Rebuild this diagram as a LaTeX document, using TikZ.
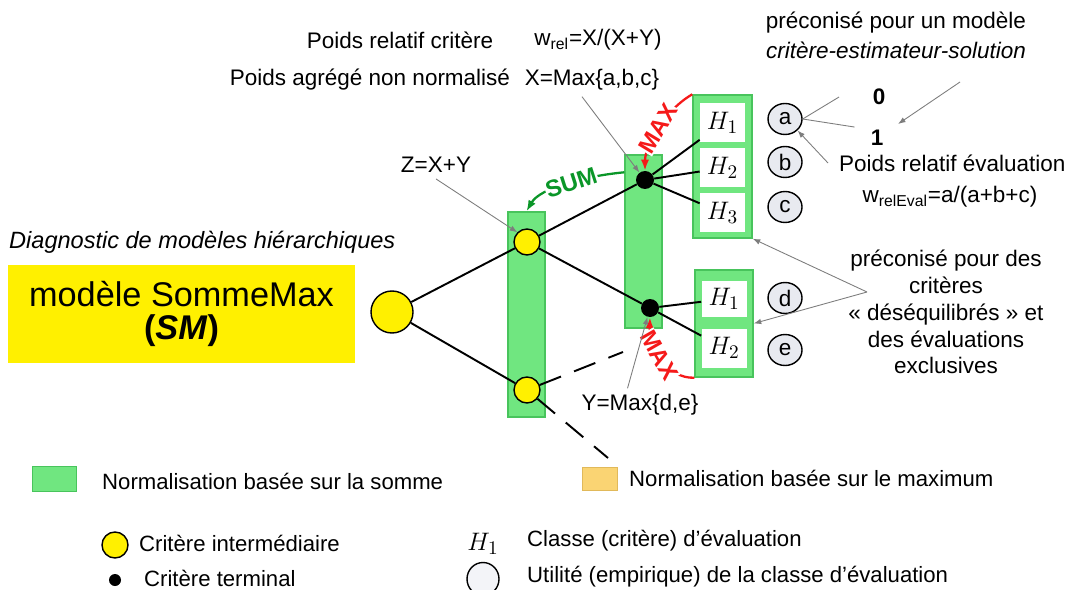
\documentclass[tikz,border=0pt]{standalone}
\usepackage{fontspec}
\setmainfont{Liberation Sans}
\usepackage{xcolor}
\usepackage{tikz}
\usetikzlibrary{arrows.meta,positioning,shapes.geometric,calc}
\definecolor{normsum}{RGB}{112,230,128}
\definecolor{normsumline}{RGB}{72,196,92}
\definecolor{normmax}{RGB}{250,212,115}
\definecolor{normmaxline}{RGB}{225,185,90}
\definecolor{crityellow}{RGB}{255,240,0}
\definecolor{utilfill}{RGB}{232,234,240}
\definecolor{maxred}{RGB}{245,25,25}
\definecolor{sumgreen}{RGB}{10,150,40}
\definecolor{notegray}{RGB}{125,125,125}

\begin{document}
\begin{tikzpicture}[x=0.2mm, y=-0.2mm,
  font=\fontsize{12.8}{15.5}\selectfont,
  column/.style={draw=normsumline, fill=normsum, line width=0.8pt,
                 minimum width=7.4mm, inner sep=0pt},
  hbox/.style={fill=white, minimum width=9mm, minimum height=7.8mm,
               inner sep=0pt, font=\fontsize{15}{18}\selectfont},
  inter/.style={circle, draw, thick, fill=crityellow, minimum size=5.2mm, inner sep=0pt},
  term/.style={circle, fill=black, minimum size=3.6mm, inner sep=0pt},
  util/.style={ellipse, draw, thick, fill=utilfill, minimum width=6.8mm,
               minimum height=6.2mm, inner sep=0pt},
  link/.style={line width=1.1pt},
  cutlink/.style={line width=1.1pt, dash pattern=on 13pt off 8pt},
  note/.style={draw=notegray, line width=0.5pt, -{Latex[length=1.5mm,width=1.1mm]}},
  maxflow/.style={maxred, line width=1.3pt, -{Latex[length=2.2mm]}},
  sumflow/.style={sumgreen, line width=1.3pt, -{Latex[length=2.2mm]}},
  flowlabel/.style={sloped, fill=white, inner sep=0.4pt, font=\fontsize{13.5}{14}\selectfont\bfseries},
  legend/.style={anchor=west, font=\fontsize{12.6}{15}\selectfont}
]
\useasboundingbox (0,0) rectangle (1070,590);

\node[column, minimum height=41mm] (colA) at (526.5,314.5) {};
\node[column, minimum height=34.6mm] (colB) at (643.5,241.5) {};
\node[column, minimum width=11.8mm, minimum height=28.6mm] (boxA) at (722.5,166.5) {};
\node[column, minimum width=11.6mm, minimum height=21.4mm] (boxB) at (724,323.5) {};

\node[hbox] (ha1) at (722.5,123) {$H_1$};
\node[hbox] (ha2) at (722.5,168) {$H_2$};
\node[hbox] (ha3) at (722.5,213) {$H_3$};
\node[hbox, minimum height=7.2mm] (hb1) at (724,299) {$H_1$};
\node[hbox] (hb2) at (724,348) {$H_2$};

\node[util] (ua) at (785,119) {a};
\node[util] (ub) at (785,162) {b};
\node[util] (uc) at (785,207) {c};
\node[util] (ud) at (785,298) {d};
\node[util] (ue) at (785,350) {e};

\node[inter, minimum size=8.4mm] (root) at (392,312) {};
\node[inter] (y1) at (527,242) {};
\node[inter] (y2) at (527,390) {};
\node[term] (t1) at (645,180) {};
\node[term] (t2) at (650,308) {};
\coordinate (cut1) at (623,352);
\coordinate (cut2) at (608,458);

\draw[link] (root) -- (y1);
\draw[link] (root) -- (y2);
\draw[link] (y1) -- (t1);
\draw[link] (y1) -- (t2);
\foreach \h in {ha1,ha2,ha3} \draw[link] (t1) -- (\h);
\foreach \h in {hb1,hb2} \draw[link] (t2) -- (\h);
\draw[cutlink] (y2) -- (cut1);
\draw[cutlink] (y2) -- (cut2);

\draw[sumflow] ([yshift=-3.6mm]colB.north west) .. controls (585,176) and (540,188) .. (colA.north)
  node[flowlabel, pos=0.45] {SUM};
\draw[maxflow] (boxA.north west) .. controls (665,110) and (645,145) .. (t1.north)
  node[flowlabel, pos=0.5] {MAX};
\draw[maxflow] (boxB.south west) .. controls (668,379) and (649,348) .. (t2.south)
  node[flowlabel, pos=0.56] {MAX};

\node (relcrit) at (400,40) {Poids relatif critère};
\node (wrel) at (598,40) {w\textsubscript{rel}=X/(X+Y)};
\node (agreg) at (370,80) {Poids agrégé non normalisé};
\node (xmax) at (592,80) {X=Max\{a,b,c\}};
\node[align=center, font=\fontsize{12.8}{17}\selectfont] (pre1) at (896,35)
  {préconisé pour un modèle\\\textit{critère-estimateur-solution}};
\node (zero) at (879,97) {\textbf{0}};
\node (one) at (877,138) {\textbf{1}};
\node[anchor=west] (relev) at (833,163) {Poids relatif évaluation};
\node (wrelev) at (950,197) {w\textsubscript{relEval}=a/(a+b+c)};
\node (zxy) at (436,165) {Z=X+Y};
\node[anchor=west, font=\fontsize{13.4}{16}\selectfont\itshape] (diag) at (3,242)
  {Diagnostic de modèles hiérarchiques};
\node[fill=crityellow, minimum width=69.4mm, minimum height=19.4mm, align=center,
      font=\fontsize{19.5}{18.5}\selectfont] (sm) at (181.5,314)
  {modèle SommeMax\\\textbf{(\textit{SM})}};
\node (ymax) at (640,405) {Y=Max\{d,e\}};
\node[align=center, font=\fontsize{12.8}{15.3}\selectfont] (pre2) at (946,312)
  {préconisé pour des\\critères\\« déséquilibrés » et\\des évaluations\\exclusives};

\coordinate (soltail) at (960,82);
\coordinate (soltip) at (898,124);
\coordinate (apex) at (867,292);
\draw[note] (soltail) -- (soltip);
\draw[notegray, line width=0.5pt] (ua.east) -- ([xshift=-5.5mm]zero.west);
\draw[notegray, line width=0.5pt] (ua.east) -- ([shift={(-2mm,-0.6mm)}]one.north west);
\draw[note] ([xshift=-1mm]relev.west) -- (ua.south east);
\draw[note] (zxy.south) -- (y1.north west);
\draw[note] ([xshift=-2mm]xmax.south) -- (t1);
\draw[note] ([xshift=-2.5mm]ymax.north) -- (t2);
\draw[note] (apex) -- (boxA.south east);
\draw[note] (apex) -- (boxB.east);

% legende
\node[draw=normsumline, fill=normsum, minimum width=8.8mm, minimum height=5mm, inner sep=0pt]
  (lgsum) at (54,479) {};
\node[legend] (lgsumtxt) at (96,481) {Normalisation basée sur la somme};
\node[draw=normmaxline, fill=normmax, minimum width=7mm, minimum height=4.6mm, inner sep=0pt]
  (lgmax) at (599.5,478.5) {};
\node[legend] (lgmaxtxt) at (623,478) {Normalisation basée sur le maximum};
\node[inter] (lginter) at (115,545) {};
\node[legend] (lgintertxt) at (133,543) {Critère intermédiaire};
\node[term, minimum size=2.4mm] (lgterm) at (115,580) {};
\node[legend] (lgtermtxt) at (138,578) {Critère terminal};
\node[font=\fontsize{15}{18}\selectfont] (lgh) at (483,544) {$H_1$};
\node[legend] (lghtxt) at (521,541) {Classe (critère) d'évaluation};
\node[util, fill=utilfill!50, minimum width=6.4mm, minimum height=6.6mm] (lgutil) at (483,579) {};
\node[legend] (lgutiltxt) at (521,577) {Utilité (empirique) de la classe d'évaluation};
\end{tikzpicture}
\end{document}
